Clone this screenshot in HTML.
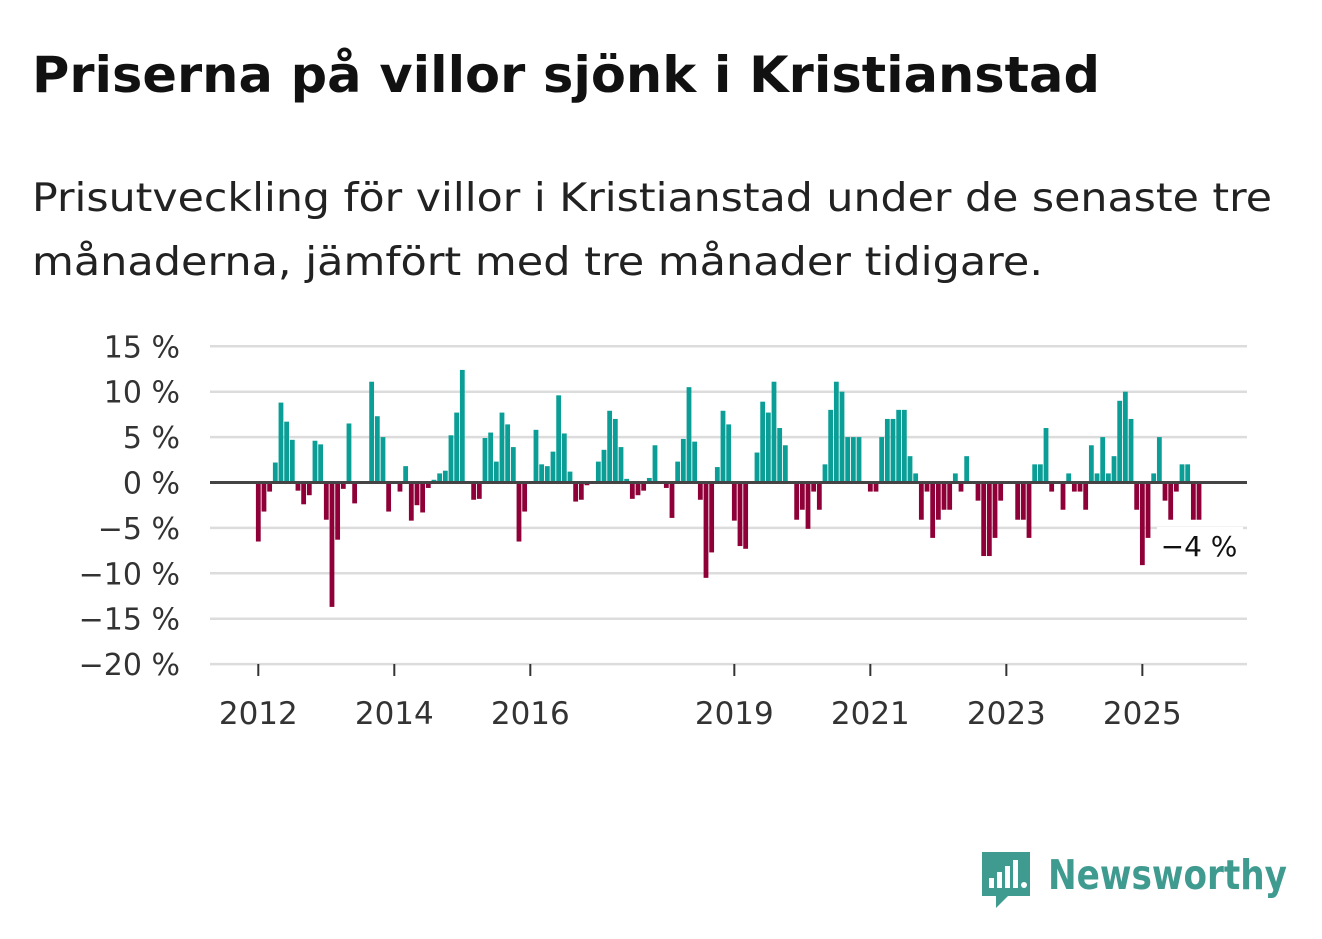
<!DOCTYPE html>
<html><head><meta charset="utf-8"><style>
body{margin:0;background:#fff;width:1322px;height:939px;overflow:hidden;font-family:"DejaVu Sans",sans-serif;}
svg{position:absolute;left:0;top:0}
</style></head><body>
<svg width="1322" height="939">
<text x="32" y="92" font-size="50" font-weight="bold" fill="#111" textLength="1068" lengthAdjust="spacingAndGlyphs" font-family="DejaVu Sans, sans-serif">Priserna på villor sjönk i Kristianstad</text>
<text x="32" y="211" font-size="39" fill="#222" textLength="1240" lengthAdjust="spacingAndGlyphs" font-family="DejaVu Sans, sans-serif">Prisutveckling för villor i Kristianstad under de senaste tre</text>
<text x="32" y="275" font-size="39" fill="#222" textLength="1011" lengthAdjust="spacingAndGlyphs" font-family="DejaVu Sans, sans-serif">månaderna, jämfört med tre månader tidigare.</text>
</svg>
<svg id="chart" width="1322" height="939"></svg>
<script>
const values=[-6.5,-3.2,-1.0,2.2,8.8,6.7,4.7,-0.9,-2.4,-1.4,4.6,4.2,-4.1,-13.7,-6.3,-0.7,6.5,-2.3,null,null,
11.1,7.3,5.0,-3.2,null,-1.0,1.8,-4.2,-2.5,-3.3,-0.6,0.3,1.0,1.3,5.2,7.7,12.4,null,-1.9,-1.8,
4.9,5.5,2.3,7.7,6.4,3.9,-6.5,-3.2,null,5.8,2.0,1.8,3.4,9.6,5.4,1.2,-2.1,-1.9,-0.3,null,
2.3,3.6,7.9,7.0,3.9,0.4,-1.8,-1.4,-0.9,0.5,4.1,null,-0.6,-3.9,2.3,4.8,10.5,4.5,-1.9,-10.5,
-7.7,1.7,7.9,6.4,-4.2,-7.0,-7.3,null,3.3,8.9,7.7,11.1,6.0,4.1,null,-4.1,-3.0,-5.1,-1.0,-3.0,
2.0,8.0,11.1,10.0,5.0,5.0,5.0,null,-1.0,-1.0,5.0,7.0,7.0,8.0,8.0,2.9,1.0,-4.1,-1.0,-6.1,
-4.1,-3.0,-3.0,1.0,-1.0,2.9,null,-2.0,-8.1,-8.1,-6.1,-2.0,null,null,-4.1,-4.1,-6.1,2.0,2.0,6.0,
-1.0,null,-3.0,1.0,-1.0,-1.0,-3.0,4.1,1.0,5.0,1.0,2.9,9.0,10.0,7.0,-3.0,-9.1,-6.1,1.0,5.0,
-2.0,-4.1,-1.0,2.0,2.0,-4.1,-4.1];
const yTicks=[15,10,5,0,-5,-10,-15,-20];
const xTickYears=[2012,2014,2016,2019,2021,2023,2025];
const startYear=2012;
const lastLabel="−4 %";
const NS="http://www.w3.org/2000/svg";
const svg=document.getElementById('chart');
const x0=210,x1=1247;
function y(v){return 482.5-v*9.08;}
function xm(m){return 258.3+m*5.667;}
function xYear(yr){return xm((yr-startYear)*12);}
function mk(t,a){const e=document.createElementNS(NS,t);for(const k in a)e.setAttribute(k,a[k]);svg.appendChild(e);return e;}
yTicks.forEach(v=>{
  if(v!==0){const l=mk('line',{x1:x0,x2:x1,y1:y(v),y2:y(v),stroke:'#dcdcdc','stroke-width':2.5});
  
  }
  const t=mk('text',{x:180,y:y(v)+11,'text-anchor':'end','font-size':30,fill:'#333'});
  
  
  t.textContent=(v<0?'−'+(-v):v)+' %';
});
xTickYears.forEach(yr=>{
  const X=xYear(yr);
  const tk=mk('line',{x1:X,x2:X,y1:664,y2:676,stroke:'#333','stroke-width':2});
  
  
  const t=mk('text',{x:X,y:724,'text-anchor':'middle','font-size':31,fill:'#333'});
  
  
  t.textContent=yr;
});
values.forEach((v,i)=>{
  if(v===null)return;
  const cx=xm(i),top=Math.min(y(v),y(0)),h=Math.abs(y(v)-y(0));
  const r=mk('rect',{x:cx-2.4,y:top,width:4.8,height:Math.max(h,0.8),fill:v>=0?'#0b9e96':'#8e0037'});
  
  
});
const z=mk('line',{x1:x0,x2:x1,y1:y(0),y2:y(0),stroke:'#444','stroke-width':3});


const last=values.length-1;
const lb=mk('rect',{x:xm(last)-42,y:527,width:86,height:36,fill:'#fff'});


const lt=mk('text',{x:xm(last),y:556,'text-anchor':'middle','font-size':28,fill:'#111'});


lt.textContent=lastLabel;
</script>
<svg width="1322" height="939" style="position:absolute;left:0;top:0;pointer-events:none">
<path d="M982 852 h48 v44 h-22 l-12 12 v-12 h-14 z" fill="#3f9a8f"/>
<rect x="989" y="878" width="5" height="10" fill="#fff"/><rect x="997" y="872" width="5" height="16" fill="#fff"/><rect x="1005" y="866" width="5" height="22" fill="#fff"/><rect x="1013" y="860" width="5" height="28" fill="#fff"/>
<circle cx="1024" cy="885" r="3" fill="#fff"/>
<text x="1048" y="889" font-size="41" font-weight="bold" fill="#3f9a8f" textLength="239" lengthAdjust="spacingAndGlyphs" font-family="DejaVu Sans, sans-serif">Newsworthy</text>
</svg>
</body></html>
